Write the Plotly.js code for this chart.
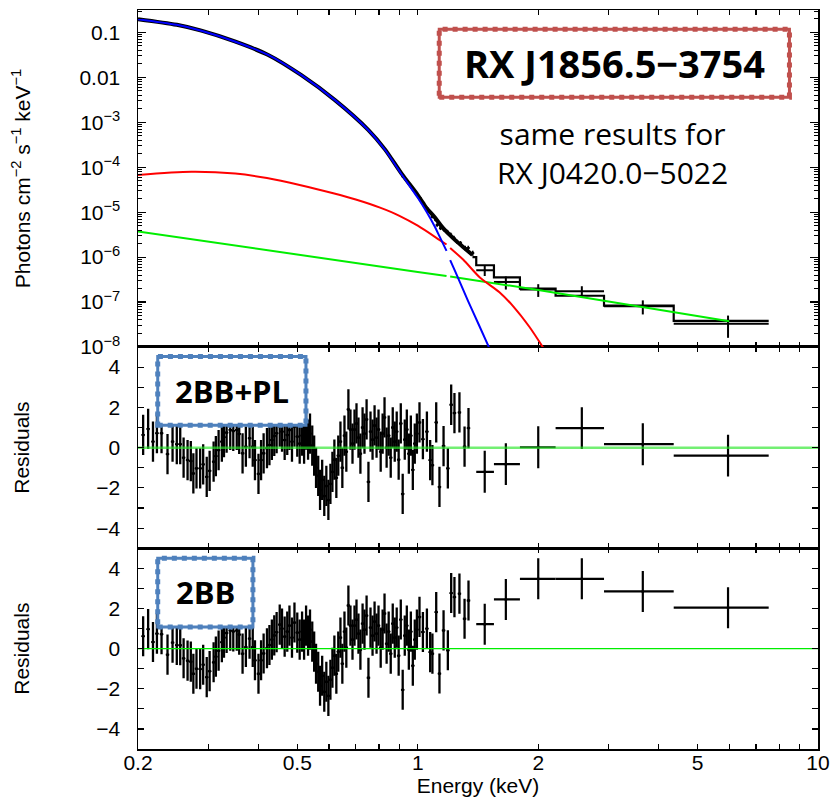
<!DOCTYPE html>
<html><head><meta charset="utf-8">
<script src="https://cdn.plot.ly/plotly-3.0.1.min.js"></script>
<style>html,body{margin:0;padding:0;background:#fff}</style>
</head><body><div id="chart" style="width:832px;height:806px"></div>
<script>
// ---------- top panel: model curves (energy keV, photons cm^-2 s^-1 keV^-1) ----------
const blueE = [0.2, 0.25, 0.288, 0.349, 0.423, 0.512, 0.62, 0.752, 0.828, 0.91, 1.0, 1.05, 1.1, 1.135, 1.18, 1.195, 1.205, 1.238, 1.336, 1.42, 1.514];
const blueF = [0.198, 0.148, 0.1096, 0.0631, 0.0316, 0.0112, 3.16e-3, 6.76e-4, 2.45e-4, 7.08e-5, 2.09e-5, 1.05e-5, 5.01e-6, 2.82e-6, 1.38e-6, null, 8.6e-7, 5.01e-7, 1.05e-7, 3.16e-8, 8.9e-9];

const redE = [0.2, 0.272, 0.35, 0.42, 0.51, 0.615, 0.70, 0.805, 0.90, 1.0, 1.135, 1.18, 1.195, 1.205, 1.3, 1.432, 1.6, 1.734, 1.9, 2.06];
const redF = [6.76e-5, 7.94e-5, 7.24e-5, 5.75e-5, 3.98e-5, 2.63e-5, 1.91e-5, 1.26e-5, 8.32e-6, 5.01e-6, 2.40e-6, 1.91e-6, null, 1.60e-6, 8.71e-7, 3.47e-7, 1.66e-7, 7.94e-8, 2.82e-8, 9.5e-9];

const greenE = [0.2, 0.5, 1.0, 1.18, 1.195, 1.205, 2.0, 6.0];
const greenF = [3.72e-6, 1.12e-6, 4.68e-7, 3.80e-7, null, 3.70e-7, 1.86e-7, 3.72e-8];

// total model (black), fine-binned part and coarse histogram part
const modelE = [0.2, 0.25, 0.288, 0.349, 0.423, 0.512, 0.62, 0.752, 0.828, 0.91, 1.0, 1.05, 1.1, 1.15, 1.2, 1.25, 1.3, 1.37];
const modelF = [0.198, 0.148, 0.1096, 0.0631, 0.0316, 0.0112, 3.16e-3, 6.8e-4, 2.5e-4, 7.3e-5, 2.4e-5, 1.26e-5, 7.9e-6, 4.7e-6, 3.16e-6, 2.24e-6, 1.66e-6, 1.12e-6];
const stepE = [1.37, 1.40, 1.55, 1.80, 2.21, 2.92, 4.36, 7.53];
const stepF = [1.0e-6, 6.6e-7, 3.55e-7, 2.0e-7, 1.38e-7, 8.3e-8, 3.8e-8, 3.8e-8];

// top panel data: fine bins above ~0.9 keV
const dataE = [0.919, 0.937, 0.956, 0.975, 0.995, 1.014, 1.034, 1.054, 1.087, 1.108, 1.118, 1.140, 1.162, 1.185, 1.208, 1.231, 1.255, 1.279, 1.314, 1.337, 1.372];
const dataF = [6.2e-5, 5.2e-5, 4.1e-5, 3.2e-5, 2.45e-5, 2.05e-5, 1.6e-5, 1.23e-5, 7.9e-6, 6.8e-6, 5.2e-6, 4.4e-6, 4.1e-6, 3.7e-6, 3.2e-6, 2.7e-6, 2.2e-6, 2.05e-6, 1.6e-6, 1.6e-6, 1.23e-6];
const dataErr = [3e-6, 2.6e-6, 2.2e-6, 1.8e-6, 1.5e-6, 1.3e-6, 1.1e-6, 9e-7, 6e-7, 5.5e-7, 4.5e-7, 4e-7, 3.8e-7, 3.5e-7, 3.2e-7, 2.8e-7, 2.4e-7, 2.3e-7, 1.9e-7, 1.9e-7, 1.6e-7];

// coarse bins (high energy)
const binLo = [1.40, 1.55, 1.80, 2.21, 2.92, 4.36];
const binHi = [1.55, 1.80, 2.21, 2.92, 4.36, 7.53];
const binE  = [1.47, 1.66, 2.00, 2.57, 3.65, 5.96];
const binF  = [5.1e-7, 2.8e-7, 1.9e-7, 1.75e-7, 8.1e-8, 3.3e-8];
const binFErr = [1.3e-7, 0.9e-7, 0.6e-7, 0.5e-7, 2.8e-8, 1.7e-8];

// ---------- residuals ----------
const resE = [0.206,0.212,0.218,0.223,0.229,0.237,0.244,0.250,0.255,0.260,
  0.266,0.271,0.275,0.280,0.286,0.291,0.297,0.302,0.309,0.313,
  0.318,0.324,0.328,0.333,0.340,0.346,0.353,0.358,0.365,0.372,
  0.380,0.387,0.392,0.400,0.406,0.412,0.420,0.426,0.432,0.438,
  0.444,0.452,0.458,0.465,0.472,0.478,0.485,0.492,0.500,0.507,
  0.514,0.520,0.526,0.532,0.538,0.545,0.551,0.557,0.564,0.570,
  0.577,0.584,0.591,0.598,0.605,0.612,0.619,0.626,0.633,0.641,
  0.648,0.656,0.663,0.671,0.679,0.687,0.695,0.703,0.711,0.719,
  0.728,0.736,0.745,0.753,0.762,0.771,0.780,0.789,0.798,0.808,
  0.817,0.826,0.836,0.846,0.856,0.866,0.876,0.886,0.896,0.907,
  0.917,0.928,0.939,0.950,0.961,0.972,0.983,0.995,
  1.010,1.030,1.054,1.074,1.088,1.112,1.133,1.160,1.189,1.212,1.235,1.271,1.309,1.339];
const resPL = [0.63,0.93,0.30,0.72,0.72,-0.32,0.30,0.17,0.17,-0.50,
  -0.62,-0.67,-1.28,-1.03,-1.03,-0.83,-1.45,-1.15,-0.70,-0.42,
  -0.12,0.30,0.52,0.75,0.88,0.83,0.88,0.68,-0.28,0.05,
  0.47,0.05,-0.62,-1.30,-0.62,-0.28,-0.03,0.13,0.38,0.58,
  0.72,1.05,0.80,0.38,0.63,0.88,0.30,1.05,0.55,0.20,
  0.6,0.2,0.9,0.4,0.7,0.1,-0.4,-1.0,-1.4,-2.1,
  -1.6,-2.4,-1.9,-2.6,-1.8,-1.2,-0.6,-1.5,-0.4,0.3,
  -1.0,0.6,-0.2,1.9,0.9,0.2,0.9,1.2,0.5,-0.3,
  1.0,0.7,1.4,-1.7,0.8,0.4,1.1,0.5,0.9,-0.2,
  0.7,1.5,0.0,0.6,-0.5,1.0,0.3,0.8,-0.6,1.2,
  -2.3,0.4,0.9,-0.3,0.6,-1.1,0.2,0.7,
  1.25,0.42,0.80,-0.62,-0.87,1.25,-1.95,0.08,-1.03,2.13,1.72,1.75,0.05,0.97];
const res2BB = [0.62,0.97,0.33,0.75,0.72,-0.30,0.30,0.18,0.17,-0.48,
  -0.60,-0.65,-1.25,-1.00,-1.02,-0.80,-1.42,-1.12,-0.68,-0.40,
  -0.10,0.32,0.55,0.78,0.90,0.86,0.90,0.70,-0.25,0.08,
  0.50,0.08,-0.58,-1.25,-0.58,-0.24,0.02,0.18,0.45,0.66,
  0.82,1.20,1.00,0.60,0.85,1.15,0.55,1.30,0.80,0.45,
  0.85,0.45,1.15,0.65,0.95,0.35,-0.15,-0.75,-1.15,-1.85,
  -1.35,-2.15,-1.65,-2.35,-1.55,-0.95,-0.35,-1.25,-0.15,0.55,
  -0.75,0.85,0.05,2.15,1.15,0.45,1.15,1.45,0.75,-0.05,
  1.25,0.95,1.65,-1.45,1.05,0.65,1.35,0.75,1.15,0.05,
  0.95,1.75,0.25,0.85,-0.25,1.25,0.55,1.05,-0.35,1.45,
  -2.05,0.65,1.15,-0.05,0.85,-0.85,0.45,0.95,
  1.58,0.83,1.00,-0.17,-0.25,1.82,-1.24,0.91,-0.08,2.77,2.57,2.74,1.49,2.40];
const binResPL  = [-1.20, -0.82, 0.02, 0.97, 0.17, -0.40];
const binRes2BB = [1.22, 2.45, 3.48, 3.48, 2.85, 2.04];
const zeroE = [0.2, 10];
const zeroR = [0, 0];

// ---------- labels ----------
const xTickVals = [0.2, 0.5, 1, 2, 5, 10];
const xTickText = ['0.2', '0.5', '1', '2', '5', '10'];
const xMinorVals = [0.3, 0.4, 0.6, 0.7, 0.8, 0.9, 3, 4, 6, 7, 8, 9];
const yTopVals = [0.1, 0.01, 1e-3, 1e-4, 1e-5, 1e-6, 1e-7, 1e-8];
const yTopText = ['0.1', '0.01', '10<sup>−3</sup>', '10<sup>−4</sup>', '10<sup>−5</sup>', '10<sup>−6</sup>', '10<sup>−7</sup>', '10<sup>−8</sup>'];
const resTickVals = [-4, -2, 0, 2, 4];
const resMinorVals = [-3, -1, 1, 3];
const sourceName = 'RX J1856.5−3754';
const noteText = 'same results for<br>RX J0420.0−5022';
const modelPL = '2BB+PL';
const model2BB = '2BB';

// ---------- build ----------
const yTopMinor = [];
for (let k = -8; k < 0; k++) for (let m = 2; m < 10; m++) { const v = m * Math.pow(10, k); if (v < Math.pow(10, -0.5)) yTopMinor.push(v); }

const FONT = 'Liberation Sans, Arial, Helvetica, sans-serif';
const black = '#000000';

function xErrArrays(lo, hi, c) {
  return { plus: hi.map((h, i) => h - c[i]), minus: lo.map((l, i) => c[i] - l) };
}
const xe = xErrArrays(binLo, binHi, binE);

const traces = [
  // top panel
  {x: modelE, y: modelF, xaxis: 'x3', yaxis: 'y3', mode: 'lines', line: {color: black, width: 4, shape: 'spline', smoothing: 0.8}},
  {x: stepE, y: stepF, xaxis: 'x3', yaxis: 'y3', mode: 'lines', line: {color: black, width: 2.2, shape: 'hv'}},
  {x: dataE, y: dataF, xaxis: 'x3', yaxis: 'y3', mode: 'markers', marker: {color: black, size: 2.5},
   error_y: {type: 'data', array: dataErr, color: black, thickness: 1.6, width: 0},
   error_x: {type: 'percent', value: 0.9, color: black, thickness: 1.6, width: 0}},
  {x: binE, y: binF, xaxis: 'x3', yaxis: 'y3', mode: 'markers', marker: {color: black, size: 2},
   error_y: {type: 'data', array: binFErr, color: black, thickness: 2, width: 0},
   error_x: {type: 'data', array: xe.plus, arrayminus: xe.minus, symmetric: false, color: black, thickness: 2, width: 0}},
  {x: greenE, y: greenF, xaxis: 'x3', yaxis: 'y3', mode: 'lines', line: {color: '#00ee00', width: 2}},
  {x: redE, y: redF, xaxis: 'x3', yaxis: 'y3', mode: 'lines', line: {color: '#ff0000', width: 2, shape: 'spline', smoothing: 0.8}},
  {x: blueE, y: blueF, xaxis: 'x3', yaxis: 'y3', mode: 'lines', line: {color: '#0000ff', width: 2, shape: 'spline', smoothing: 0.8}},
  // middle panel (2BB+PL)
  {x: resE, y: resPL, xaxis: 'x2', yaxis: 'y2', mode: 'markers', marker: {color: black, size: 3},
   error_y: {type: 'constant', value: 1, color: black, thickness: 2.3, width: 0},
   error_x: {type: 'percent', value: 1.0, color: black, thickness: 1.8, width: 0}},
  {x: binE, y: binResPL, xaxis: 'x2', yaxis: 'y2', mode: 'markers', marker: {color: black, size: 3},
   error_y: {type: 'constant', value: 1.04, color: black, thickness: 2.2, width: 0},
   error_x: {type: 'data', array: xe.plus, arrayminus: xe.minus, symmetric: false, color: black, thickness: 2.2, width: 0}},
  {x: zeroE, y: zeroR, xaxis: 'x2', yaxis: 'y2', mode: 'lines', line: {color: 'rgba(40,230,40,0.65)', width: 2.5}},
  // bottom panel (2BB)
  {x: resE, y: res2BB, xaxis: 'x', yaxis: 'y', mode: 'markers', marker: {color: black, size: 3},
   error_y: {type: 'constant', value: 1, color: black, thickness: 2.3, width: 0},
   error_x: {type: 'percent', value: 1.0, color: black, thickness: 1.8, width: 0}},
  {x: binE, y: binRes2BB, xaxis: 'x', yaxis: 'y', mode: 'markers', marker: {color: black, size: 3},
   error_y: {type: 'constant', value: 1.02, color: black, thickness: 2.2, width: 0},
   error_x: {type: 'data', array: xe.plus, arrayminus: xe.minus, symmetric: false, color: black, thickness: 2.2, width: 0}},
  {x: zeroE, y: zeroR, xaxis: 'x', yaxis: 'y', mode: 'lines', line: {color: '#00ee00', width: 1.3}}
];

const tickFont = {family: FONT, size: 21, color: black};
function xAxis(anchor, labels) {
  return {
    type: 'log', range: [Math.log10(0.2), 1], anchor: anchor,
    showline: true, linecolor: black, linewidth: 1.5, mirror: 'ticks',
    ticks: 'inside', ticklen: 5, tickwidth: 1.2, tickcolor: black,
    tickmode: 'array', tickvals: xTickVals, ticktext: xTickText, showticklabels: labels,
    minor: {ticks: 'inside', ticklen: 5, tickwidth: 1.2, tickcolor: black, tickmode: 'array', tickvals: xMinorVals},
    showgrid: false, zeroline: false, tickfont: tickFont, ticklabelstandoff: -6
  };
}
function resAxis(domain) {
  return {
    domain: domain, range: [-5, 5], anchor: domain[0] === 0 ? 'x' : 'x2',
    showline: true, linecolor: black, linewidth: 1.5, mirror: 'ticks',
    ticks: 'inside', ticklen: 6, tickwidth: 1.2, tickcolor: black,
    tickmode: 'array', tickvals: resTickVals,
    minor: {ticks: 'inside', ticklen: 6, tickwidth: 1.2, tickcolor: black, tickmode: 'array', tickvals: resMinorVals},
    showgrid: false, zeroline: false, tickfont: tickFont, ticklabelstandoff: 12,
    title: {text: 'Residuals', font: {family: FONT, size: 21, color: black}, standoff: 61}
  };
}

const xA = xAxis('y', true);
xA.title = {text: 'Energy (keV)', font: {family: FONT, size: 21, color: black}, standoff: 2};
const xA2 = xAxis('y2', false); xA2.matches = 'x';
const xA3 = xAxis('y3', false); xA3.matches = 'x';

function box(x0, x1, y0, y1, col) {
  return [
    {type: 'rect', xref: 'paper', yref: 'paper', x0: x0, x1: x1, y0: y0, y1: y1, layer: 'above',
     fillcolor: 'white', line: {color: col, width: 3}},
    {type: 'rect', xref: 'paper', yref: 'paper', x0: x0, x1: x1, y0: y0, y1: y1, layer: 'above',
     fillcolor: 'rgba(0,0,0,0)', line: {color: col, width: 5, dash: 'dot'}}
  ];
}

const layout = {
  width: 832, height: 806,
  margin: {l: 138, r: 14, t: 10, b: 57},
  paper_bgcolor: 'white', plot_bgcolor: 'white',
  showlegend: false,
  font: {family: FONT, color: black},
  xaxis: xA, xaxis2: xA2, xaxis3: xA3,
  yaxis: resAxis([0, 0.2716]),
  yaxis2: resAxis([0.2716, 0.544]),
  yaxis3: {
    domain: [0.544, 1], type: 'log', range: [-8, -0.5], anchor: 'x3',
    showline: true, linecolor: black, linewidth: 1.5, mirror: 'ticks',
    ticks: 'inside', ticklen: 8, tickwidth: 1.2, tickcolor: black,
    tickmode: 'array', tickvals: yTopVals, ticktext: yTopText,
    minor: {ticks: 'inside', ticklen: 4, tickwidth: 1, tickcolor: black, tickmode: 'array', tickvals: yTopMinor},
    showgrid: false, zeroline: false, tickfont: tickFont, ticklabelstandoff: 12,
    title: {text: 'Photons cm<sup>−2</sup> s<sup>−1</sup> keV<sup>−1</sup>', font: {family: FONT, size: 21, color: black}, standoff: 43}
  },
  shapes: [].concat(
    box(0.443, 0.958, 0.882, 0.974, '#c0504d'),
    box(0.029, 0.247, 0.438, 0.531, '#4f81bd'),
    box(0.029, 0.169, 0.165, 0.258, '#4f81bd')
  ),
  annotations: [
    {xref: 'paper', yref: 'paper', x: 0.700, y: 0.928, text: '<b>' + sourceName + '</b>', showarrow: false,
     xanchor: 'center', yanchor: 'middle', font: {family: 'Open Sans, Noto Sans, sans-serif', size: 38, color: black}},
    {xref: 'paper', yref: 'paper', x: 0.698, y: 0.806, text: noteText, showarrow: false,
     xanchor: 'center', yanchor: 'middle', font: {family: 'Open Sans, Noto Sans, sans-serif', size: 30, color: black}},
    {xref: 'paper', yref: 'paper', x: 0.138, y: 0.484, text: '<b>' + modelPL + '</b>', showarrow: false,
     xanchor: 'center', yanchor: 'middle', font: {family: 'Open Sans, Noto Sans, sans-serif', size: 31, color: black}},
    {xref: 'paper', yref: 'paper', x: 0.099, y: 0.212, text: '<b>' + model2BB + '</b>', showarrow: false,
     xanchor: 'center', yanchor: 'middle', font: {family: 'Open Sans, Noto Sans, sans-serif', size: 31, color: black}}
  ]
};

Plotly.newPlot('chart', traces, layout, {displayModeBar: false, staticPlot: true});
</script></body></html>
